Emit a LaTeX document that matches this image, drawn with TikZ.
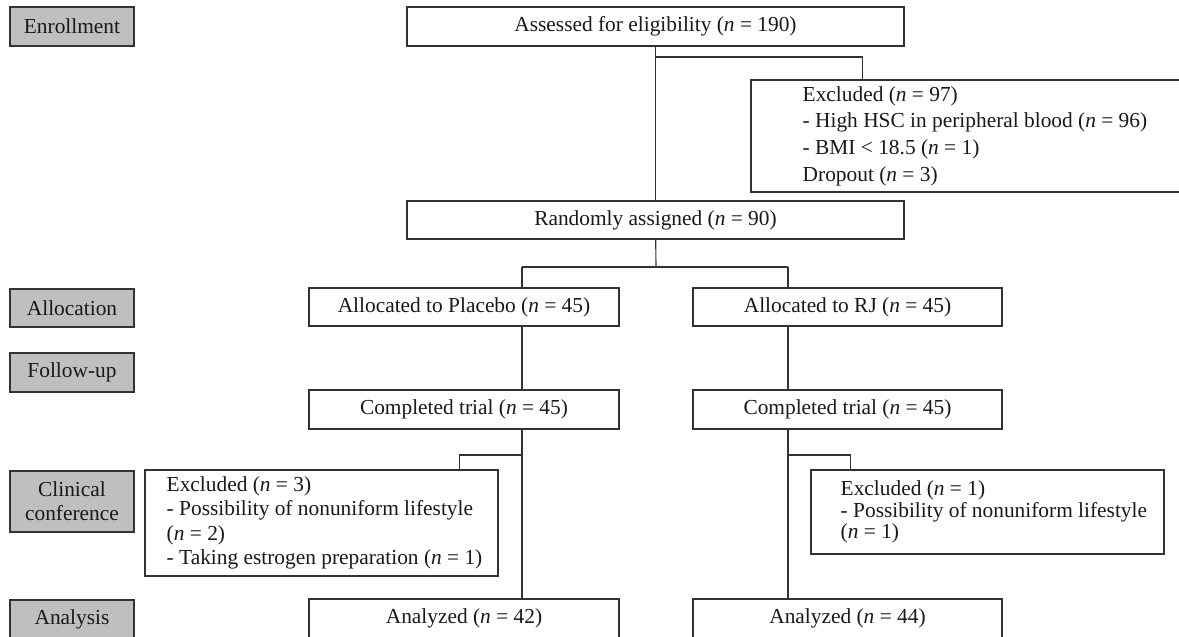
\documentclass[tikz,border=0pt]{standalone}
\usepackage{fontspec}
\setmainfont{Liberation Serif}
\usepackage{tikz}
\usetikzlibrary{
  positioning,
  calc
}
\tikzset{
  every node/.style={
    font=\fontsize{15.2}{17.3}\selectfont,
    text=black!90
  },
  boxsize/.style 2 args={
    minimum width=#1*0.025cm,
    minimum height=#2*0.025cm
  },
  stagebox/.style={
    draw=black!80, line width=0.8pt, fill=black!25,
    inner sep=0pt, align=center
  },
  flowbox/.style={
    draw=black!80, line width=0.8pt, fill=white,
    inner sep=0pt, align=center
  },
  listtext/.style={
    inner sep=0pt, align=left, anchor=west
  },
  link/.style={
    draw=black!80, line width=0.8pt
  }
}

\begin{document}
\begin{tikzpicture}[x=0.025cm, y=-0.025cm]
\useasboundingbox (0,0) rectangle (1179,637);
% stages
\node[stagebox, boxsize={124}{39}] (enr) at (72,26.5) {Enrollment};
\node[stagebox, boxsize={124}{38}] (alc) at (72,308) {Allocation};
\node[stagebox, boxsize={124}{39}] (fol) at (72,372.5) {Follow-up};
\node[stagebox, boxsize={124}{61}, font=\fontsize{15.2}{17}\selectfont] (cli) at (72,501.5) {Clinical\\conference};
\node[stagebox, boxsize={124}{38}] (ana) at (72,619) {Analysis};
% main flow
\node[flowbox, boxsize={497}{39}] (ass) at (655.5,26.5) {Assessed for eligibility (\textit{n} = 190)};
\node[flowbox, boxsize={459}{112}] (ex97) at (980.5,136) {};
\node[listtext, font=\fontsize{15.2}{18.9}\selectfont] (ex97t) at ($(ex97.west)+(52,0)$)
  {Excluded (\textit{n} = 97)\\- High HSC in peripheral blood (\textit{n} = 96)\\- BMI < 18.5 (\textit{n} = 1)\\Dropout (\textit{n} = 3)};
\node[flowbox, boxsize={497}{38}] (rnd) at (655.5,220) {Randomly assigned (\textit{n} = 90)};
% placebo arm
\node[flowbox, boxsize={310}{38}] (plc) at (464,307) {Allocated to Placebo (\textit{n} = 45)};
\node[flowbox, boxsize={310}{39}] (cmpP) at (464,409.5) {Completed trial (\textit{n} = 45)};
\node[flowbox, boxsize={353}{106}] (ex3) at (321.5,523) {};
\node[listtext] (ex3t) at ($(ex3.west)+(22,0)$)
  {Excluded (\textit{n} = 3)\\- Possibility of nonuniform lifestyle\\(\textit{n} = 2)\\- Taking estrogen preparation (\textit{n} = 1)};
\node[flowbox, boxsize={310}{39}] (anaP) at (464,618.5) {Analyzed (\textit{n} = 42)};
% RJ arm
\node[flowbox, boxsize={309}{38}] (rj) at (847.5,307) {Allocated to RJ (\textit{n} = 45)};
\node[flowbox, boxsize={309}{39}] (cmpR) at (847.5,409.5) {Completed trial (\textit{n} = 45)};
\node[flowbox, boxsize={353}{84}] (ex1) at (987.5,512) {};
\node[listtext, font=\fontsize{15.2}{15.3}\selectfont] (ex1t) at ($(ex1.west)+(30,0)$)
  {Excluded (\textit{n} = 1)\\- Possibility of nonuniform lifestyle\\(\textit{n} = 1)};
\node[flowbox, boxsize={309}{39}] (anaR) at (847.5,618.5) {Analyzed (\textit{n} = 44)};
% tap points
\coordinate (tapE) at (656,57);
\coordinate (dropE) at ($(ex97.north west)+(112,0)$);
\coordinate (split) at (656,267);
\coordinate (colP) at (522,267);
\coordinate (colR) at (788,267);
\coordinate (tapP) at (522,455);
\coordinate (dropP) at ($(ex3.north east)+(-39,0)$);
\coordinate (tapR) at (788,455);
\coordinate (dropR) at ($(ex1.north west)+(40,0)$);
% connectors
\draw[link] (ass) -- (rnd);
\draw[link] (tapE) -| (dropE);
\draw[link] (rnd) -- (split);
\draw[link] (colP) -- (colR);
\draw[link] (colP) -- (plc.north -| colP);
\draw[link] (colR) -- (rj.north -| colR);
\draw[link] (plc.south -| colP) -- (cmpP.north -| colP);
\draw[link] (cmpP.south -| colP) -- (anaP.north -| colP);
\draw[link] (rj.south -| colR) -- (cmpR.north -| colR);
\draw[link] (cmpR.south -| colR) -- (anaR.north -| colR);
\draw[link] (tapP) -| (dropP);
\draw[link] (tapR) -| (dropR);
\end{tikzpicture}
\end{document}
